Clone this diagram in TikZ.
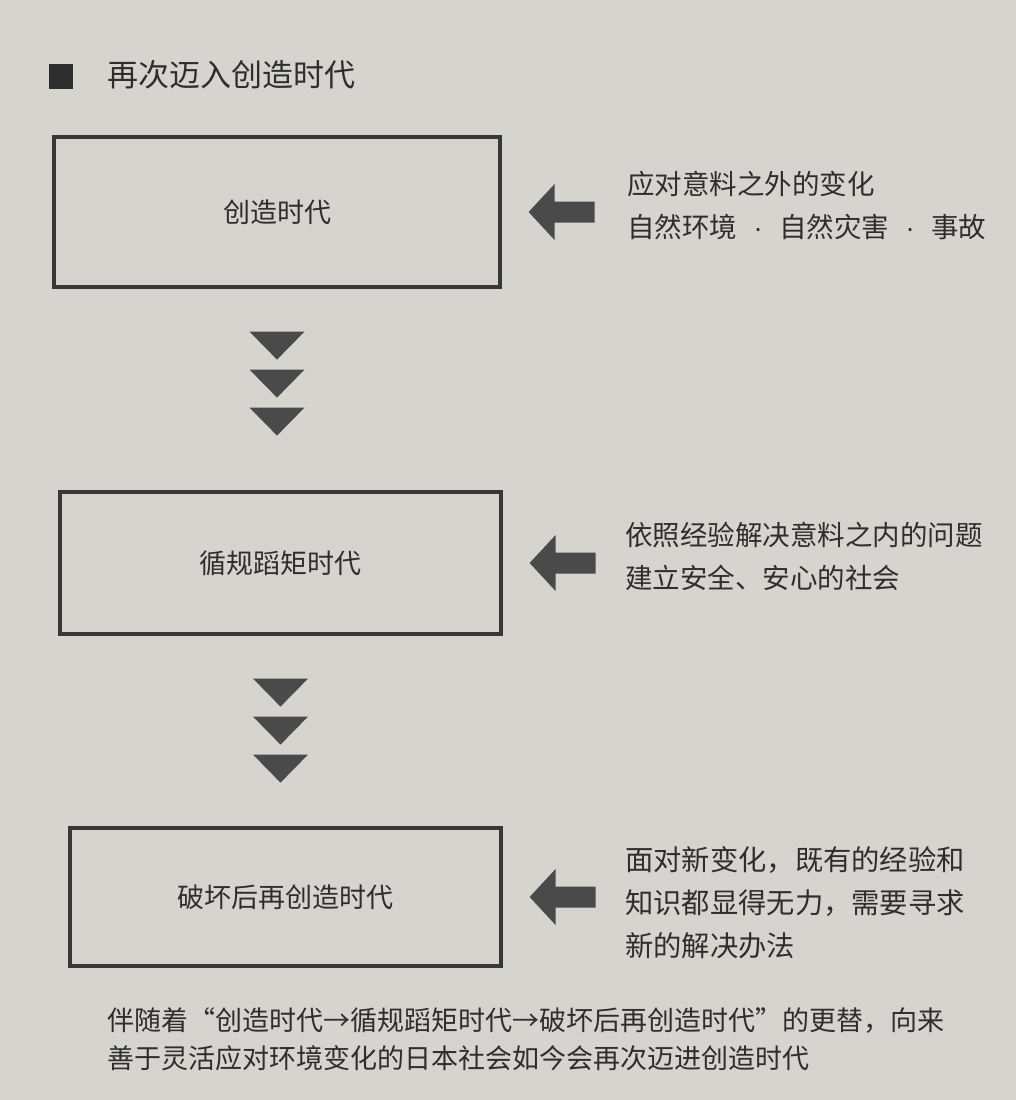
\documentclass[tikz,border=0pt]{standalone}
\usepackage{fontspec}
\usepackage{tikz}
\usetikzlibrary{calc}
\setmainfont{Noto Sans CJK SC}
\newfontfamily\latinfont{Liberation Sans}
\definecolor{paper}{HTML}{D6D4CF}
\definecolor{ink}{HTML}{2E2E2E}
\definecolor{arrowfill}{HTML}{4A4A4A}
\definecolor{frame}{HTML}{383838}
\tikzset{
  era/.style={draw=frame, line width=3.2pt, inner sep=0pt, text=ink,
    font=\fontsize{27}{32}\selectfont},
  note/.style={anchor=west, align=left, inner sep=0pt, text=ink,
    font=\fontsize{27.5}{43}\selectfont},
}

\begin{document}
\begin{tikzpicture}[x=1pt,y=-1pt]
  \fill[paper] (0,0) rectangle (1016,1100);
  \useasboundingbox (0,0) rectangle (1016,1100);

  % heading
  \fill[ink] (49,64) rectangle (73,89);
  \node[anchor=west, inner sep=0pt, text=ink, font=\fontsize{31}{36}\selectfont] (heading) at (107,75) {再次迈入创造时代};

  % the three eras
  \node[era, minimum width=446pt, minimum height=150pt] (creation) at (277,212) {创造时代};
  \node[era, minimum width=441pt, minimum height=142pt] (routine) at (280.5,563) {循规蹈矩时代};
  \node[era, minimum width=431pt, minimum height=138pt] (recreation) at (285.5,897) {破坏后再创造时代};

  % block arrows from the notes
  \foreach \b in {creation,routine,recreation}{
    \fill[arrowfill] ($(\b.east)+(27,0)$) -- ++(26,-28) -- ++(0,17.5) -- ++(40,0)
      -- ++(0,21) -- ++(-40,0) -- ++(0,17.5) -- cycle;
  }

  % triangles between eras
  \foreach \b in {creation,routine}{
    \foreach \k in {0,1,2}{
      \fill[arrowfill] ($(\b.south)+(-27.5,43+38*\k)$) -- ++(55,0) -- ++(-27.5,28) -- cycle;
    }
  }

  \node[note] (cause1) at (627,205) {应对意料之外的变化\\自然环境\makebox[42pt]{\latinfont ·}自然灾害\makebox[42pt]{\latinfont ·}事故};
  \node[note] (cause2) at (625,556) {依照经验解决意料之内的问题\\建立安全、安心的社会};
  \node[note, font=\fontsize{28.3}{43}\selectfont] (cause3) at (625,903) {面对新变化，既有的经验和\\知识都显得无力，需要寻求\\新的解决办法};

  % caption
  \node[anchor=west, align=left, inner sep=0pt, text=ink, font=\fontsize{27}{38}\selectfont] (caption) at (107,1039)
    {伴随着“创造时代→循规蹈矩时代→破坏后再创造时代”的更替，向来\\善于灵活应对环境变化的日本社会如今会再次迈进创造时代};
\end{tikzpicture}
\end{document}
